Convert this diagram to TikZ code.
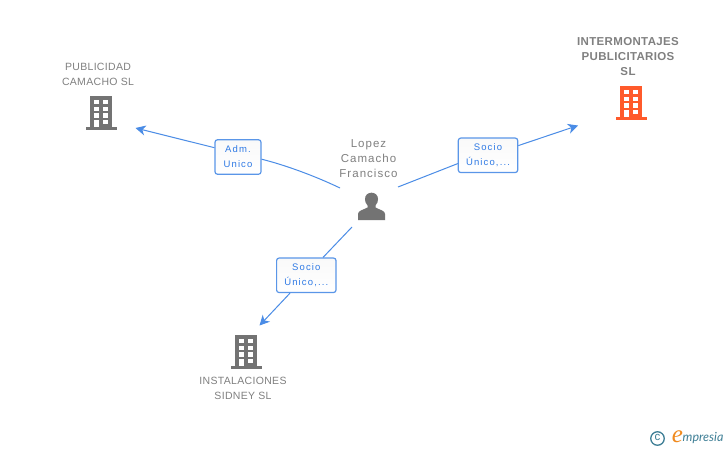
\documentclass[tikz,border=0pt]{standalone}
\usepackage{fontspec}
\setmainfont{Liberation Sans}
\newfontfamily\logofont{Lato}
\newfontfamily\logoefont{Liberation Serif}
\usetikzlibrary{arrows.meta}
\definecolor{grayicon}{HTML}{737373}
\definecolor{graytext}{HTML}{808080}
\definecolor{linkblue}{HTML}{4A8CE6}
\definecolor{boxblue}{HTML}{5A96E8}
\definecolor{labelblue}{HTML}{2F7AE5}
\definecolor{boxtop}{HTML}{F9F9F9}
\definecolor{orangeicon}{HTML}{FF5A2B}
\definecolor{logoteal}{HTML}{3F7F96}
\definecolor{logoorange}{HTML}{F08A1E}
\tikzset{
  x=1pt,y=-1pt,
  nametext/.style={text=graytext,align=center,font=\fontsize{10.5}{15}\selectfont\addfontfeature{LetterSpace=3},inner sep=0pt},
  boldtext/.style={text=graytext,align=center,font=\fontsize{11.5}{15}\selectfont\bfseries\addfontfeature{LetterSpace=3},inner sep=0pt},
  persontext/.style={text=graytext,align=center,font=\fontsize{11.5}{15}\selectfont\addfontfeature{LetterSpace=9},inner sep=0pt},
  rolebox/.style={draw=boxblue,line width=1.2pt,rounded corners=2.5pt,top color=boxtop,bottom color=white,text=labelblue,align=center,
    font=\fontsize{9.5}{15}\selectfont\addfontfeature{LetterSpace=12},inner sep=0pt,minimum height=34.5pt},
  link/.style={draw=linkblue,line width=1pt},
  linkarrow/.style={link,-{Stealth[length=10pt,width=10pt,inset=3pt]}},
}
\newcommand{\building}[3]{% x, y of body top-left, colour
  \begin{scope}[shift={(#1,#2)}]
    \fill[#3] (0,0) rectangle (22.3,31);
    \fill[#3] (-4.5,31) rectangle (27,34);
    \foreach \wx in {4,13.3}{\foreach \wy in {4,10.7,17.3}{
      \fill[white] (\wx,\wy) rectangle ++(4.6,4.4);}}
    \fill[white] (4,23.7) rectangle (8.6,31);
    \fill[white] (13.3,23.7) rectangle (17.9,28);
  \end{scope}
}
\begin{document}
\begin{tikzpicture}
\useasboundingbox (0,0) rectangle (728,450);
\fill[white] (0,0) rectangle (728,450);

% Icons
\building{90}{96}{grayicon}
\building{620}{86}{orangeicon}
\building{235}{335}{grayicon}
\fill[grayicon] (358,220) -- (358,214) .. controls (358,210.5) and (363,210) .. (367.5,207.5)
  -- (367.5,205.5) .. controls (365.5,203.5) and (365,201) .. (365,199)
  .. controls (365,195) and (368,192.7) .. (371.5,192.7)
  .. controls (375,192.7) and (378,195) .. (378,199)
  .. controls (378,201) and (377.5,203.5) .. (375.5,205.5)
  -- (375.5,207.5) .. controls (380,210) and (385,210.5) .. (385,214) -- (385,220) -- cycle;

% Names
\node[nametext] (pub) at (98,74.5) {PUBLICIDAD\\CAMACHO SL};
\node[boldtext] (inter) at (628,56.5) {INTERMONTAJES\\PUBLICITARIOS\\SL};
\node[nametext] (inst) at (243,388.5) {INSTALACIONES\\SIDNEY SL};
\node[persontext] (lopez) at (368.5,158.5) {Lopez\\Camacho\\Francisco};

% Role boxes
\node[rolebox,minimum width=46pt] (adm) at (238,157) {Adm.\\Unico};
\node[rolebox,minimum width=59.4pt] (soc1) at (488,155.3) {Socio\\Único,...};
\node[rolebox,minimum width=59.4pt] (soc2) at (306.3,275.3) {Socio\\Único,...};

% Free ends
\coordinate (pA) at (340,188);
\coordinate (pB) at (398,187);
\coordinate (pC) at (352,227);
\coordinate (tA) at (135.5,128);
\coordinate (tB) at (578,125.5);
\coordinate (tC) at (259.5,325.5);
\coordinate (aE) at ([yshift=-2.2pt]adm.east);
\coordinate (aW) at ([yshift=9.3pt]adm.west);
\coordinate (bW) at ([yshift=-8.3pt]soc1.west);
\coordinate (bE) at ([yshift=9.7pt]soc1.east);
\coordinate (cN) at ([xshift=16.7pt]soc2.north);
\coordinate (cS) at ([xshift=-16.3pt]soc2.south);

% Connectors
\draw[link] (pA) .. controls (315,176) and (285,165) .. (aE);
\draw[linkarrow] (aW) -- (tA);
\draw[link] (pB) -- (bW);
\draw[linkarrow] (bE) -- (tB);
\draw[link] (pC) -- (cN);
\draw[linkarrow] (cS) -- (tC);

% Logo
\node[draw=logoteal,line width=1.3pt,circle,minimum size=13.5pt,inner sep=0pt,text=logoteal] (copy) at (657.5,438.5) {};
\node[text=logoteal,font=\fontsize{11.5}{11.5}\selectfont,inner sep=0pt] (copyc) at (657.5,437.7) {c};
\node[text=logoorange,font=\fontsize{25}{25}\selectfont\logoefont\itshape,inner sep=0pt] (elogo) at (677.5,436.5) {e};
\node[text=logoteal,font=\fontsize{12.5}{12.5}\selectfont\logofont\itshape,anchor=west,inner sep=0pt] (mpresia) at (682.5,438.5) {mpresia};
\end{tikzpicture}
\end{document}
